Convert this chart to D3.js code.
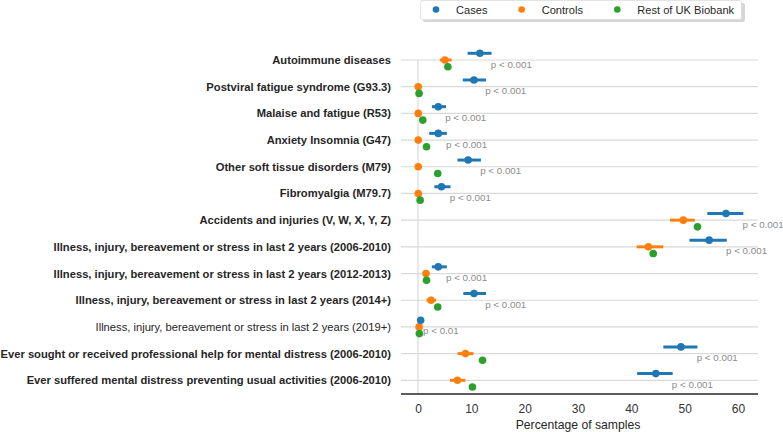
<!DOCTYPE html>
<html>
<head>
<meta charset="utf-8">
<script src="https://cdn.jsdelivr.net/npm/d3@7"></script>
<style>
html,body{margin:0;padding:0;background:#fff;}
svg{display:block;font-family:"Liberation Sans",Arial,sans-serif;}
</style>
</head>
<body>
<svg id="chart" width="783" height="432"></svg>
<script>
const categories = [
  "Autoimmune diseases",
  "Postviral fatigue syndrome (G93.3)",
  "Malaise and fatigue (R53)",
  "Anxiety Insomnia (G47)",
  "Other soft tissue disorders (M79)",
  "Fibromyalgia (M79.7)",
  "Accidents and injuries (V, W, X, Y, Z)",
  "Illness, injury, bereavement or stress in last 2 years (2006-2010)",
  "Illness, injury, bereavement or stress in last 2 years (2012-2013)",
  "Illness, injury, bereavement or stress in last 2 years (2014+)",
  "Illness, injury, bereavement or stress in last 2 years (2019+)",
  "Ever sought or received professional help for mental distress (2006-2010)",
  "Ever suffered mental distress preventing usual activities (2006-2010)"
];
const significant = [true,true,true,true,true,true,true,true,true,true,false,true,true];
const pLabels = ["p < 0.001","p < 0.001","p < 0.001","p < 0.001","p < 0.001","p < 0.001","p < 0.001","p < 0.001","p < 0.001","p < 0.001","p < 0.01","p < 0.001","p < 0.001"];

const casesMean = [11.6, 10.5, 3.8, 3.8, 9.4, 4.4, 57.75, 54.6, 3.8, 10.5, 0.5, 49.3, 44.6];
const casesLo   = [9.3, 8.4, 2.6, 2.1, 7.4, 3.06, 54.25, 50.9, 2.6, 8.5, 0.05, 46.0, 41.1];
const casesHi   = [13.8, 12.75, 5.25, 5.4, 11.8, 6.1, 61.0, 57.9, 5.4, 12.75, 1.1, 52.4, 47.75];

const controlsMean = [5.06, 0.05, 0.05, 0.05, 0.05, 0.05, 49.75, 43.2, 1.5, 2.44, 0.2, 8.9, 7.4];
const controlsLo   = [4.1, 0.0, 0.0, 0.0, 0.0, 0.0, 47.25, 41.0, 1.0, 1.6, 0.0, 7.4, 6.0];
const controlsHi   = [6.3, 0.1, 0.1, 0.1, 0.1, 0.1, 51.9, 46.0, 2.0, 3.4, 0.4, 10.4, 8.9];

const restMean = [5.6, 0.2, 0.9, 1.6, 3.7, 0.4, 52.4, 44.1, 1.6, 3.7, 0.25, 12.1, 10.2];

const xTicks = [0, 10, 20, 30, 40, 50, 60];
const seriesNames = ["Cases", "Controls", "Rest of UK Biobank"];
const seriesColors = ["#1f77b4", "#ff7f0e", "#2ca02c"];

const svg = d3.select("#chart");
const plotLeft = 401, plotRight = 758, axisY = 394;

const x = d3.scaleLinear().domain([0, 60]).range([418, 738]);
const y = d3.scalePoint().domain(categories).range([60, 380.3]);
const off = 6.7;

// horizontal gridlines
svg.append("g").selectAll("line").data(categories).join("line")
  .attr("x1", plotLeft).attr("x2", plotRight)
  .attr("y1", d => y(d)).attr("y2", d => y(d))
  .attr("stroke", "#d9d9d9").attr("stroke-width", 1.2);

// vertical line at 0
svg.append("line")
  .attr("x1", x(0)).attr("x2", x(0))
  .attr("y1", y(categories[0])).attr("y2", axisY)
  .attr("stroke", "#d9d9d9").attr("stroke-width", 1.2);

// x axis
const xAxis = d3.axisBottom(x).tickValues(xTicks).tickSize(0).tickPadding(10);
const gx = svg.append("g").attr("transform", `translate(0,${axisY})`).call(xAxis);
gx.select(".domain").remove();
gx.selectAll("text").attr("font-size", 12).attr("fill", "#333")
  .attr("font-family", "'Liberation Sans',Arial,sans-serif");
svg.append("line").attr("x1", plotLeft).attr("x2", plotRight)
  .attr("y1", axisY).attr("y2", axisY).attr("stroke", "#262626").attr("stroke-width", 1.3);

svg.append("text").attr("x", (x(0) + x(60)) / 2).attr("y", 429)
  .attr("text-anchor", "middle").attr("font-size", 12.2).attr("fill", "#262626")
  .text("Percentage of samples");

// category labels
svg.append("g").selectAll("text").data(categories).join("text")
  .attr("x", 391).attr("y", d => y(d) + 4)
  .attr("text-anchor", "end").attr("font-size", 11.2)
  .attr("font-weight", (d, i) => significant[i] ? "bold" : "normal")
  .attr("fill", "#262626")
  .text(d => d);

const idx = d3.range(categories.length);

// controls error bars + points
svg.append("g").selectAll("line").data(idx).join("line")
  .attr("x1", i => x(controlsLo[i])).attr("x2", i => x(controlsHi[i]))
  .attr("y1", i => y(categories[i])).attr("y2", i => y(categories[i]))
  .attr("stroke", seriesColors[1]).attr("stroke-width", 3);
svg.append("g").selectAll("circle").data(idx).join("circle")
  .attr("cx", i => x(controlsMean[i])).attr("cy", i => y(categories[i]))
  .attr("r", 3.8).attr("fill", seriesColors[1]);

// rest
svg.append("g").selectAll("circle").data(idx).join("circle")
  .attr("cx", i => x(restMean[i])).attr("cy", i => y(categories[i]) + off)
  .attr("r", 3.8).attr("fill", seriesColors[2]);

// cases
svg.append("g").selectAll("line").data(idx).join("line")
  .attr("x1", i => x(casesLo[i])).attr("x2", i => x(casesHi[i]))
  .attr("y1", i => y(categories[i]) - off).attr("y2", i => y(categories[i]) - off)
  .attr("stroke", seriesColors[0]).attr("stroke-width", 3);
svg.append("g").selectAll("circle").data(idx).join("circle")
  .attr("cx", i => x(casesMean[i])).attr("cy", i => y(categories[i]) - off)
  .attr("r", 3.8).attr("fill", seriesColors[0]);

// p labels
svg.append("g").selectAll("text").data(idx).join("text")
  .attr("x", i => x(casesHi[i]) - 0.8).attr("y", i => y(categories[i]) + 7.5)
  .attr("font-size", 9.8).attr("fill", "#8c8c8c")
  .text(i => pLabels[i]);

// legend
const lg = svg.append("g");
lg.append("rect").attr("x", 423).attr("y", 3).attr("width", 322).attr("height", 19)
  .attr("rx", 2).attr("fill", "#bbb").attr("opacity", 0.6);
lg.append("rect").attr("x", 420.5).attr("y", 0.5).attr("width", 321).attr("height", 19)
  .attr("rx", 2).attr("fill", "#fff").attr("stroke", "#dcdcdc").attr("stroke-width", 0.8);
const legX = [436, 521.7, 617.3];
seriesNames.forEach((n, i) => {
  lg.append("circle").attr("cx", legX[i]).attr("cy", 9.5).attr("r", 3.3).attr("fill", seriesColors[i]);
  lg.append("text").attr("x", legX[i] + 20).attr("y", 13.5)
    .attr("font-size", 11.1).attr("fill", "#262626").text(n);
});
</script>
</body>
</html>
